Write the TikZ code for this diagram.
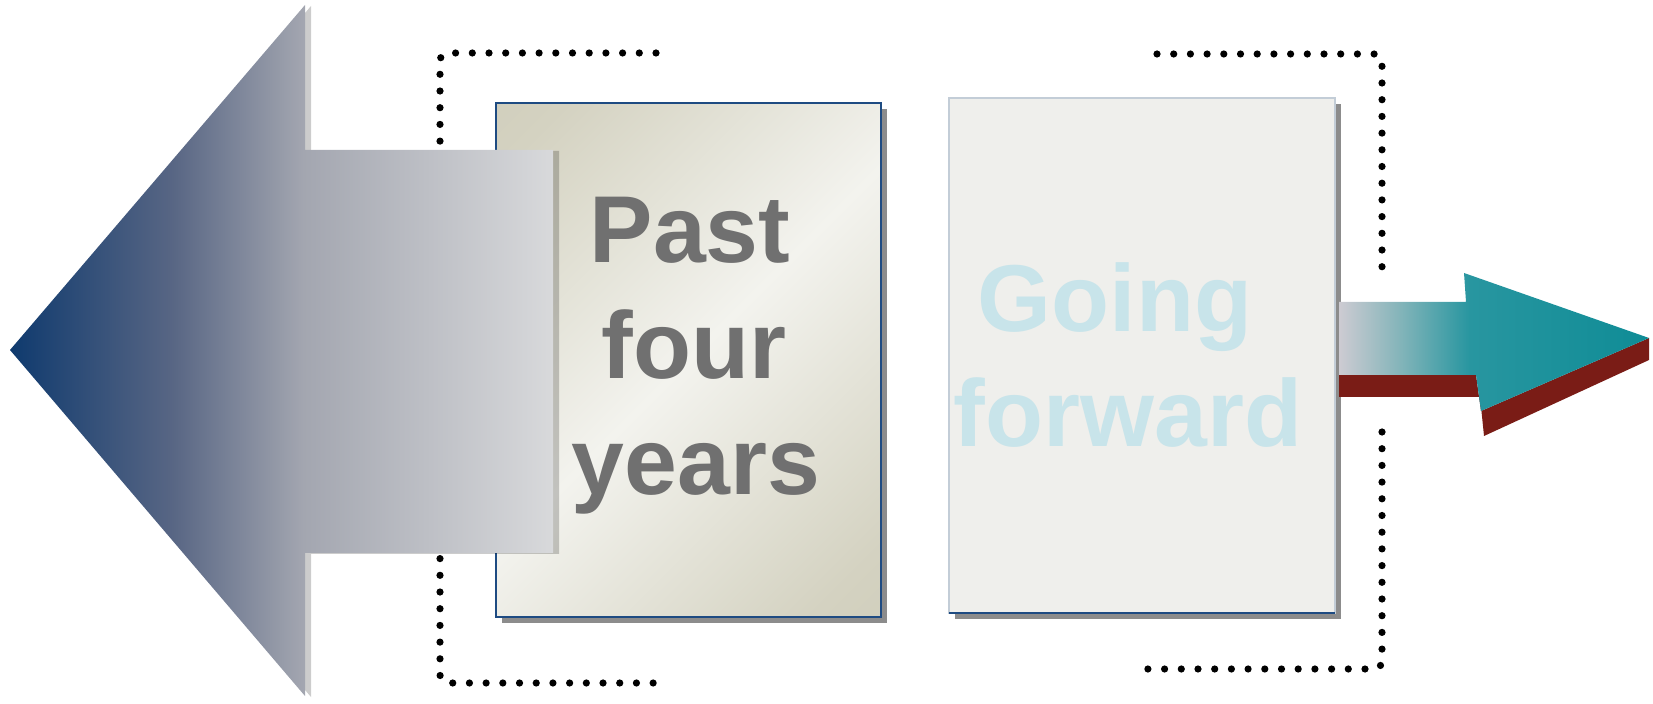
\documentclass[tikz,border=0pt]{standalone}
\usepackage{fontspec}
\setmainfont{Liberation Sans}
\usetikzlibrary{shadows}

\definecolor{navyend}{RGB}{15,58,110}
\definecolor{navymid}{RGB}{88,102,132}
\definecolor{greyblue}{RGB}{163,166,176}
\definecolor{lightgrey}{RGB}{216,217,219}
\definecolor{beigedark}{RGB}{202,200,180}
\definecolor{beigemid}{RGB}{212,210,193}
\definecolor{beigelight}{RGB}{243,243,238}
\definecolor{boxblue}{RGB}{30,75,130}
\definecolor{boxedge}{RGB}{195,205,215}
\definecolor{gofill}{RGB}{239,239,236}
\definecolor{shadowgrey}{RGB}{140,140,140}
\definecolor{pastgrey}{RGB}{112,112,112}
\definecolor{gocyan}{RGB}{200,228,234}
\definecolor{shaftgrey}{RGB}{205,203,210}
\definecolor{tealmid}{RGB}{130,180,185}
\definecolor{tealdark}{RGB}{40,150,160}
\definecolor{tealend}{RGB}{15,140,150}
\definecolor{arrowred}{RGB}{122,28,22}

\pgfdeclarehorizontalshading{leftgrad}{100bp}{color(0bp)=(navyend); color(25bp)=(navyend); color(40bp)=(navymid); color(52bp)=(greyblue); color(75bp)=(lightgrey); color(100bp)=(lightgrey)}
\pgfdeclarehorizontalshading{rightgrad}{100bp}{color(0bp)=(shaftgrey); color(25bp)=(shaftgrey); color(35bp)=(tealmid); color(46bp)=(tealdark); color(75bp)=(tealend); color(100bp)=(tealend)}
\pgfdeclarehorizontalshading{pastgrad}{100bp}{color(0bp)=(beigedark); color(20bp)=(beigemid); color(50bp)=(beigelight); color(80bp)=(beigemid); color(100bp)=(beigedark)}

\begin{document}
\begin{tikzpicture}[
  x=0.5pt, y=-0.5pt,
  pastbox/.style={rectangle, draw=boxblue, line width=1pt, shading=pastgrad, shading angle=-45, minimum width=192.5pt, minimum height=257pt, outer sep=0pt, inner sep=0pt, drop shadow={shadow xshift=3pt, shadow yshift=-3pt, fill=shadowgrey, opacity=1}},
  gobox/.style={rectangle, draw=boxedge, line width=0.6pt, fill=gofill, minimum width=193pt, minimum height=257.5pt, outer sep=0pt, inner sep=0pt, drop shadow={shadow xshift=3pt, shadow yshift=-3pt, fill=shadowgrey, opacity=1}},
  dotline/.style={line width=3.6pt, dash pattern=on 0pt off 8.35pt, line cap=round, rounded corners=4pt},
  bigtext/.style={font=\fontsize{47.5pt}{58pt}\selectfont\bfseries, anchor=base, inner sep=0pt}
]
  \useasboundingbox (0,0) rectangle (1653,704);

  % dotted brackets
  \draw[dotline] (656,53) -- (440,53) -- (440,683) -- (663,683);
  \draw[dotline] (1157,54) -- (1382,54) -- (1382,269);
  \draw[dotline] (1382,432) -- (1382,669) -- (1147,669);

  % the two panels
  \node[pastbox] (past) at (688.5,360) {};
  \node[gobox] (go) at (1142,355.5) {};
  \draw[boxblue, line width=1.2pt] (go.south west) -- (go.south east);

  % big arrow to the left
  \fill[black, opacity=0.2, shift={(6,1)}] (10,350) -- (305,5) -- (305,150) -- (553,150) -- (553,553) -- (305,553) -- (305,696) -- cycle;
  \shade[shading=leftgrad] (10,350) -- (305,5) -- (305,150) -- (553,150) -- (553,553) -- (305,553) -- (305,696) -- cycle;

  % small arrow to the right
  \fill[arrowred] (1339,375) -- (1476,375) -- (1481,411) -- (1649,338) -- (1649,360) -- (1484,436) -- (1480,397) -- (1339,397) -- cycle;
  \shade[shading=rightgrad] (1339,302) -- (1466,302) -- (1464,273) -- (1649,338) -- (1481,411) -- (1476,375) -- (1339,375) -- cycle;

  % texts
  \node[bigtext, text=pastgrey] (past1) at (690,263) {Past};
  \node[bigtext, text=pastgrey] (past2) at (694,379) {four};
  \node[bigtext, text=pastgrey] (past3) at (696,495) {years};
  \node[bigtext, text=gocyan] (go1) at (1115,332) {Going};
  \node[bigtext, text=gocyan] (go2) at (1128,447) {forward};
\end{tikzpicture}
\end{document}
